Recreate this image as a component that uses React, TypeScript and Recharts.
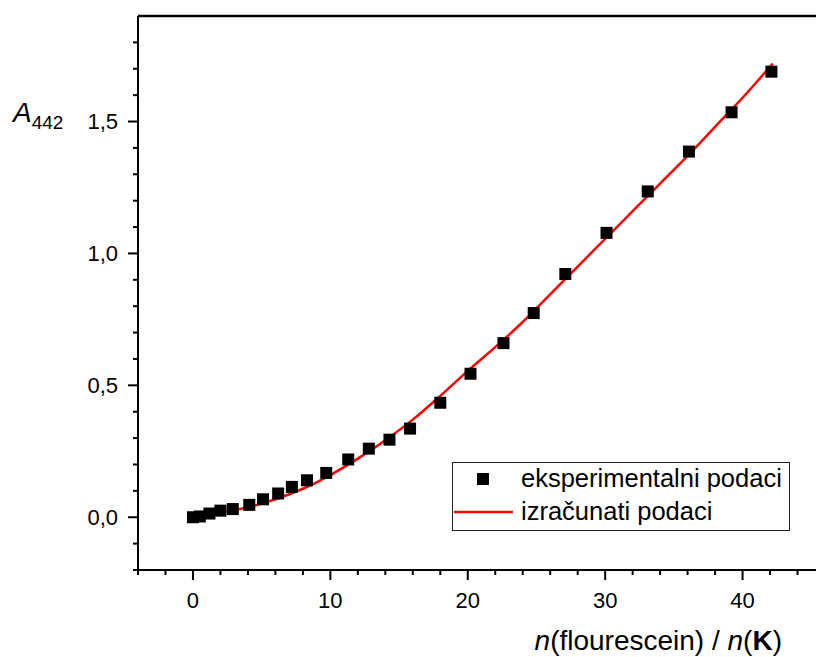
import React from "react";
import {
    ComposedChart,
    Line,
    Scatter,
    XAxis,
    YAxis,
    Legend,
    ReferenceLine
} from "recharts";

// measured points (ratio, absorbance)
const expRatio = [0, 0.5, 1.2, 2.0, 2.9, 4.1, 5.1, 6.2, 7.2, 8.3, 9.7, 11.3, 12.8, 14.3, 15.8, 18.0, 20.2, 22.6, 24.8, 27.1, 30.1, 33.1, 36.1, 39.2, 42.1];
const expAbs = [0.0, 0.003, 0.014, 0.025, 0.031, 0.047, 0.068, 0.09, 0.115, 0.14, 0.168, 0.219, 0.26, 0.294, 0.336, 0.434, 0.544, 0.66, 0.774, 0.922, 1.078, 1.235, 1.386, 1.535, 1.689];

// fitted curve
const fitRatio = [0, 2, 4, 6, 8, 10, 12, 14, 16, 18, 20, 22, 24, 26, 28, 30, 32, 34, 36, 38, 40, 42.2];
const fitAbs = [0.004, 0.018, 0.038, 0.068, 0.108, 0.16, 0.222, 0.292, 0.37, 0.46, 0.555, 0.645, 0.74, 0.845, 0.95, 1.055, 1.16, 1.265, 1.37, 1.48, 1.59, 1.72];

const xTicks = [-4, -2, 0, 2, 4, 6, 8, 10, 12, 14, 16, 18, 20, 22, 24, 26, 28, 30, 32, 34, 36, 38, 40, 42, 44];
const yTicks = [-0.2, -0.1, 0, 0.1, 0.2, 0.3, 0.4, 0.5, 0.6, 0.7, 0.8, 0.9, 1.0, 1.1, 1.2, 1.3, 1.4, 1.5, 1.6, 1.7, 1.8];

const expData = expRatio.map((r, i) => ({ r, a: expAbs[i] }));
const fitData = fitRatio.map((r, i) => ({ r, a: fitAbs[i] }));

const FONT = "'Liberation Sans', Arial, sans-serif";

const XTick = (props: any) => {
    const { x, y, payload } = props;
    const v = payload.value;
    const major = Math.abs(v % 10) < 1e-6;
    return (
        <g>
            <line x1={x} x2={x} y1={y} y2={y + (major ? 10 : 5)} stroke="#000" strokeWidth={2} />
            {major && (
                <text x={x} y={y + 38} textAnchor="middle" fontFamily={FONT} fontSize={22} fill="#000">
                    {v}
                </text>
            )}
        </g>
    );
};

const YTick = (props: any) => {
    const { x, y, payload } = props;
    const v = payload.value;
    const major = Math.abs(v * 2 - Math.round(v * 2)) < 1e-6;
    return (
        <g>
            <line x1={x} x2={x - (major ? 10 : 5)} y1={y} y2={y} stroke="#000" strokeWidth={2} />
            {major && v >= 0 && (
                <text x={x - 20} y={y} dy="0.36em" textAnchor="end" fontFamily={FONT} fontSize={22} fill="#000">
                    {v.toFixed(1).replace(".", ",")}
                </text>
            )}
        </g>
    );
};

const SquareDot = (props: any) => {
    const { cx, cy } = props;
    return <rect x={cx - 6} y={cy - 6} width={12} height={12} fill="#000" />;
};

const LegendBox = () => (
    <svg width={338} height={69} style={{ display: "block" }}>
        <rect x={0.5} y={0.5} width={337} height={68} fill="#fff" stroke="#222" strokeWidth={1} />
        <rect x={25} y={11} width={12} height={12} fill="#000" />
        <text x={69} y={25} fontFamily={FONT} fontSize={25.5} fill="#000">eksperimentalni podaci</text>
        <line x1={2} x2={61} y1={50} y2={50} stroke="#ff0000" strokeWidth={2.5} />
        <text x={69} y={58} fontFamily={FONT} fontSize={25.5} fill="#000">izračunati podaci</text>
    </svg>
);

export default function App() {
    return (
        <div style={{ position: "absolute", left: 0, top: 0, width: 816, height: 657, overflow: "hidden", background: "#fff" }}>
            <ComposedChart
                width={840}
                height={657}
                margin={{ top: 16, right: 15, bottom: 0, left: 0 }}
            >
                <XAxis
                    type="number"
                    dataKey="r"
                    domain={[-4, 46]}
                    ticks={xTicks}
                    interval={0}
                    height={87}
                    tickSize={0}
                    tickMargin={0}
                    tickLine={false}
                    tick={<XTick />}
                    axisLine={{ stroke: "#000", strokeWidth: 2 }}
                    allowDataOverflow
                    label={{
                        content: () => (
                            <text x={782} y={650} textAnchor="end" fontFamily={FONT} fontSize={28} fill="#000">
                                <tspan fontStyle="italic">n</tspan>
                                <tspan>(flourescein) / </tspan>
                                <tspan fontStyle="italic">n</tspan>
                                <tspan>(</tspan>
                                <tspan fontWeight="bold">K</tspan>
                                <tspan>)</tspan>
                            </text>
                        )
                    }}
                />
                <YAxis
                    type="number"
                    dataKey="a"
                    domain={[-0.2, 1.9]}
                    ticks={yTicks}
                    interval={0}
                    width={138}
                    tickSize={0}
                    tickMargin={0}
                    tickLine={false}
                    tick={<YTick />}
                    axisLine={{ stroke: "#000", strokeWidth: 2 }}
                    allowDataOverflow
                    label={{
                        content: () => (
                            <text x={13} y={122} fontFamily={FONT} fill="#000">
                                <tspan fontStyle="italic" fontSize={28}>A</tspan>
                                <tspan fontSize={19} dy={7}>442</tspan>
                            </text>
                        )
                    }}
                />
                <ReferenceLine y={1.9} stroke="#000" strokeWidth={2.5} ifOverflow="visible" />
                <Legend
                    layout="vertical"
                    align="center"
                    verticalAlign="middle"
                    wrapperStyle={{ left: 452, top: 462, width: 338, height: 69 }}
                    content={() => <LegendBox />}
                />
                <Line
                    data={fitData}
                    dataKey="a"
                    type="monotone"
                    stroke="#ff0000"
                    strokeWidth={2.5}
                    dot={false}
                    activeDot={false}
                    isAnimationActive={false}
                    legendType="line"
                    name="izračunati podaci"
                />
                <Scatter
                    data={expData}
                    dataKey="a"
                    fill="#000"
                    shape={<SquareDot />}
                    isAnimationActive={false}
                    name="eksperimentalni podaci"
                />
            </ComposedChart>
        </div>
    );
}
